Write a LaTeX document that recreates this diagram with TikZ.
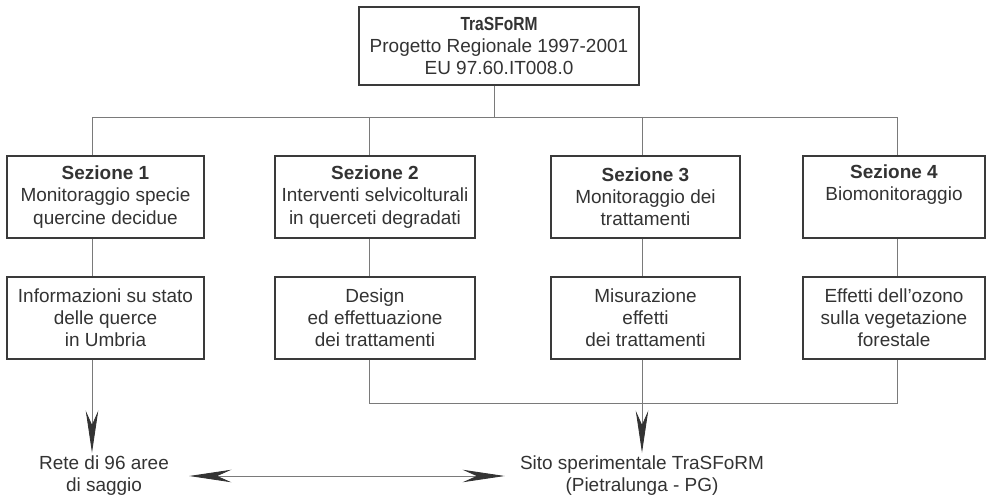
\documentclass[tikz,border=0pt]{standalone}
\usepackage{fontspec}
\setmainfont{Liberation Sans}
\usepackage{tikz}
\usetikzlibrary{calc}
\usetikzlibrary{shapes,arrows.meta}

\definecolor{boxgray}{HTML}{3A3A3A}
\definecolor{linegray}{HTML}{7A7A7A}
\definecolor{textgray}{HTML}{333333}

\begin{document}
\begin{tikzpicture}[x=0.2mm,y=-0.2mm,
    >={Stealth[length=8.4mm, width=2.5mm, inset=2.8mm, color=textgray]},
    font=\fontsize{10.8}{12.6}\selectfont,
    boxnode/.style={rectangle, draw=boxgray, line width=0.8pt, text=textgray, align=center, inner sep=1pt, minimum height=16.4mm},
    textnode/.style={rectangle, text=textgray, align=center, inner xsep=3mm, inner ysep=0.6mm},
    conn/.style={draw=linegray, line width=0.5pt}
    ]
  \useasboundingbox (0,0) rectangle (987,496);
  \begin{scope}
    % columns of the connectors
    \coordinate (C0) at (494,0);
    \coordinate (C1) at (92,0);
    \coordinate (C2) at (369,0);
    \coordinate (C3) at (642,0);
    \coordinate (C4) at (897,0);
    \coordinate (Bus) at (0,117);
    \coordinate (Bus2) at (0,403);
    % nodes
    \node[boxnode, minimum width=56mm, minimum height=15.6mm] (TraSFoRM) at (499,46)
      {\scalebox{0.82}[1]{\bfseries TraSFoRM}\\Progetto Regionale 1997-2001\\EU 97.60.IT008.0};
    \node[boxnode, minimum width=39.4mm] (Sezione1) at (105.5,197)
      {\textbf{Sezione 1}\\Monitoraggio specie\\quercine decidue};
    \node[boxnode, minimum width=40mm] (Sezione2) at (375,197)
      {\textbf{Sezione 2}\\Interventi selvicolturali\\in querceti degradati};
    \node[boxnode, minimum width=37.8mm] (Sezione3) at (645.5,197)
      {\textbf{Sezione 3}\\Monitoraggio dei\\trattamenti};
    \node[boxnode, minimum width=36.4mm] (Sezione4) at (894,197)
      {\textbf{Sezione 4}\\Biomonitoraggio\\\strut};
    \node[boxnode, minimum width=39.4mm] (Informazioni) at (105.5,318)
      {Informazioni su stato\\delle querce\\in Umbria};
    \node[boxnode, minimum width=40mm] (Design) at (375,318)
      {Design\\ed effettuazione\\dei trattamenti};
    \node[boxnode, minimum width=37.8mm] (Misurazione) at (645.5,318)
      {Misurazione\\effetti\\dei trattamenti};
    \node[boxnode, minimum width=36.4mm] (Effetti) at (894,318)
      {Effetti dell'ozono\\sulla vegetazione\\forestale};
    \node[textnode] (Rete) at (104,476) {Rete di 96 aree\\di saggio};
    \node[textnode] (Sito) at (642,476) {Sito sperimentale TraSFoRM\\(Pietralunga - PG)};
    % lines
    \draw[conn] (TraSFoRM.south -| C0) -- (C0 |- Bus);
    \draw[conn] (Sezione1.north -| C1) -- (C1 |- Bus) -- (C4 |- Bus) -- (Sezione4.north -| C4);
    \draw[conn] (C2 |- Bus) -- (Sezione2.north -| C2);
    \draw[conn] (C3 |- Bus) -- (Sezione3.north -| C3);
    \draw[conn] (Sezione1.south -| C1) -- (Informazioni.north -| C1);
    \draw[conn] (Sezione2.south -| C2) -- (Design.north -| C2);
    \draw[conn] (Sezione3.south -| C3) -- (Misurazione.north -| C3);
    \draw[conn] (Sezione4.south -| C4) -- (Effetti.north -| C4);
    \draw[conn] (Design.south -| C2) -- (C2 |- Bus2) -- (C4 |- Bus2) -- (Effetti.south -| C4);
  \end{scope}
  % arrows
  \draw[conn, ->] (Informazioni.south -| C1) -- (Rete.north -| C1);
  \draw[conn, ->] (Misurazione.south -| C3) -- (Sito.north -| C3);
  \draw[conn, <->, shorten <=1mm] (Rete.east) -- (Sito.west);
\end{tikzpicture}
\end{document}
